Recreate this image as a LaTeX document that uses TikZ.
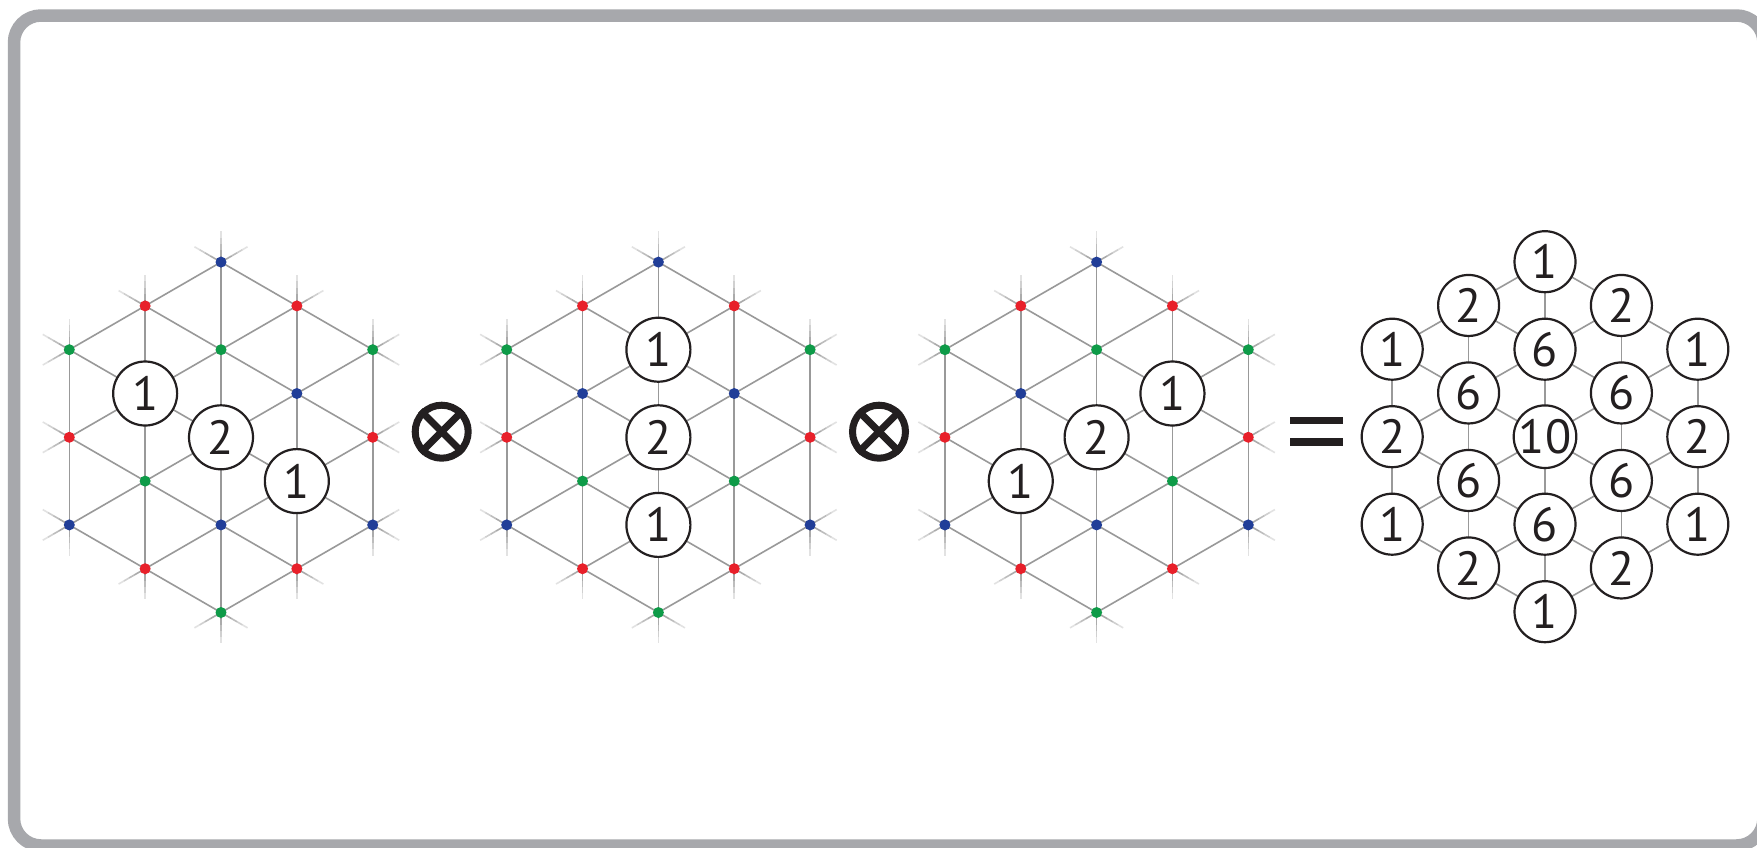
\documentclass[tikz,border=0pt]{standalone}
\usepackage{fontspec}
\setmainfont{PT Sans}
\usetikzlibrary{calc}

\definecolor{frameGray}{HTML}{A7A8AC}
\definecolor{latGray}{HTML}{999999}
\definecolor{dotBlue}{HTML}{213E98}
\definecolor{dotRed}{HTML}{E8202A}
\definecolor{dotGreen}{HTML}{0E9B48}
\definecolor{inkBlack}{HTML}{231F20}

\tikzset{
  frameline/.style={draw=frameGray, line width=12.5pt, rounded corners=27pt},
  latline/.style={draw=latGray, line width=1.6pt},
  latdot/.style={circle, inner sep=0pt, minimum size=11pt, draw=none},
  numcirc/.style={circle, draw=inkBlack, line width=2.2pt, fill=white,
    minimum size=64pt, inner sep=0pt, text=inkBlack,
    font=\fontsize{48}{48}\selectfont},
  sumcirc/.style={numcirc, minimum size=61pt},
  otimesring/.style={circle, draw=inkBlack, line width=7pt, minimum size=53pt, inner sep=0pt},
  opline/.style={draw=inkBlack, line width=7pt},
  eqbar/.style={rectangle, fill=inkBlack, draw=none, minimum width=52.7pt,
    minimum height=7.8pt, inner sep=0pt}
}

% faded stub beyond end point #1, away from #2; #3 = number of edges of the line
\newcommand\latstub[3]{%
  \foreach \m [evaluate=\m as \op using 1-0.18*\m,
               evaluate=\m as \ka using 0.07*\m/#3,
               evaluate=\m as \kb using 0.07*(\m+1)/#3] in {0,...,4}
    {\draw[latline, draw opacity=\op] ($(#1)!-\ka!(#2)$) -- ($(#1)!-\kb!(#2)$);}%
}

% lattice lines; #1 = 1 draws stubs
\newcommand\latlines[1]{%
  \foreach \ax/\ay/\bx/\by/\n in {
      -2/-1/-2/1/2, -1/-1.5/-1/1.5/3, 0/-2/0/2/4, 1/-1.5/1/1.5/3, 2/-1/2/1/2,
      0/-2/2/-1/2, -1/-1.5/2/0/3, -2/-1/2/1/4, -2/0/1/1.5/3, -2/1/0/2/2,
      -2/-1/0/-2/2, -2/0/1/-1.5/3, -2/1/2/-1/4, -1/1.5/2/0/3, 0/2/2/1/2}{
    \draw[latline] (\ax,\ay) -- (\bx,\by);
    \ifnum#1=1
      \latstub{\ax,\ay}{\bx,\by}{\n}%
      \latstub{\bx,\by}{\ax,\ay}{\n}%
    \fi
  }%
}

\newcommand\latdots{%
  \foreach \i/\t/\c in {0/-2/dotBlue, 0/-1/dotGreen, 0/0/dotRed, 0/1/dotBlue, 0/2/dotGreen,
      -1/-1.5/dotRed, -1/-0.5/dotBlue, -1/0.5/dotGreen, -1/1.5/dotRed,
      1/-1.5/dotRed, 1/-0.5/dotBlue, 1/0.5/dotGreen, 1/1.5/dotRed,
      -2/-1/dotGreen, -2/0/dotRed, -2/1/dotBlue,
      2/-1/dotGreen, 2/0/dotRed, 2/1/dotBlue}{
    \node[latdot, fill=\c] at (\i,\t) {};
  }%
}

\begin{document}
\begin{tikzpicture}[x=1pt,y=-1pt]
\useasboundingbox (0,0) rectangle (1757,847);
\fill[white] (0,0) rectangle (1757,847);
\draw[frameline] (14,15.5) rectangle (1763.5,845.5);

% panel A
\begin{scope}[shift={(221,437.3)}, x=75.85pt, y=-87.6pt]
  \latlines{1}
  \latdots
  \node[numcirc] (A1) at (-1,-0.5) {1};
  \node[numcirc] (A2) at (0,0) {2};
  \node[numcirc] (A3) at (1,0.5) {1};
\end{scope}

% panel B
\begin{scope}[shift={(658.4,437.3)}, x=75.85pt, y=-87.6pt]
  \latlines{1}
  \latdots
  \node[numcirc] (B1) at (0,-1) {1};
  \node[numcirc] (B2) at (0,0) {2};
  \node[numcirc] (B3) at (0,1) {1};
\end{scope}

% panel C
\begin{scope}[shift={(1096.6,437.3)}, x=75.85pt, y=-87.6pt]
  \latlines{1}
  \latdots
  \node[numcirc] (C1) at (-1,0.5) {1};
  \node[numcirc] (C2) at (0,0) {2};
  \node[numcirc] (C3) at (1,-0.5) {1};
\end{scope}

% operators
\node[otimesring] (ot1) at (441.7,431.7) {};
\draw[opline] (ot1.north east) -- (ot1.south west);
\draw[opline] (ot1.north west) -- (ot1.south east);
\node[otimesring] (ot2) at (879,431.7) {};
\draw[opline] (ot2.north east) -- (ot2.south west);
\draw[opline] (ot2.north west) -- (ot2.south east);
\node[eqbar] (eq1) at (1316.3,420.5) {};
\node[eqbar] (eq2) at (1316.3,441.7) {};

% result panel D
\begin{scope}[shift={(1545,436.7)}, x=76.4pt, y=-87.5pt]
  \latlines{0}
  \foreach \i/\t/\v/\nm in {0/-2/1/D1, 0/-1/6/D2, 0/0/10/D3, 0/1/6/D4, 0/2/1/D5,
      -1/-1.5/2/D6, -1/-0.5/6/D7, -1/0.5/6/D8, -1/1.5/2/D9,
      1/-1.5/2/D10, 1/-0.5/6/D11, 1/0.5/6/D12, 1/1.5/2/D13,
      -2/-1/1/D14, -2/0/2/D15, -2/1/1/D16,
      2/-1/1/D17, 2/0/2/D18, 2/1/1/D19}{
    \node[sumcirc] (\nm) at (\i,\t) {\v};
  }
\end{scope}
\end{tikzpicture}
\end{document}
